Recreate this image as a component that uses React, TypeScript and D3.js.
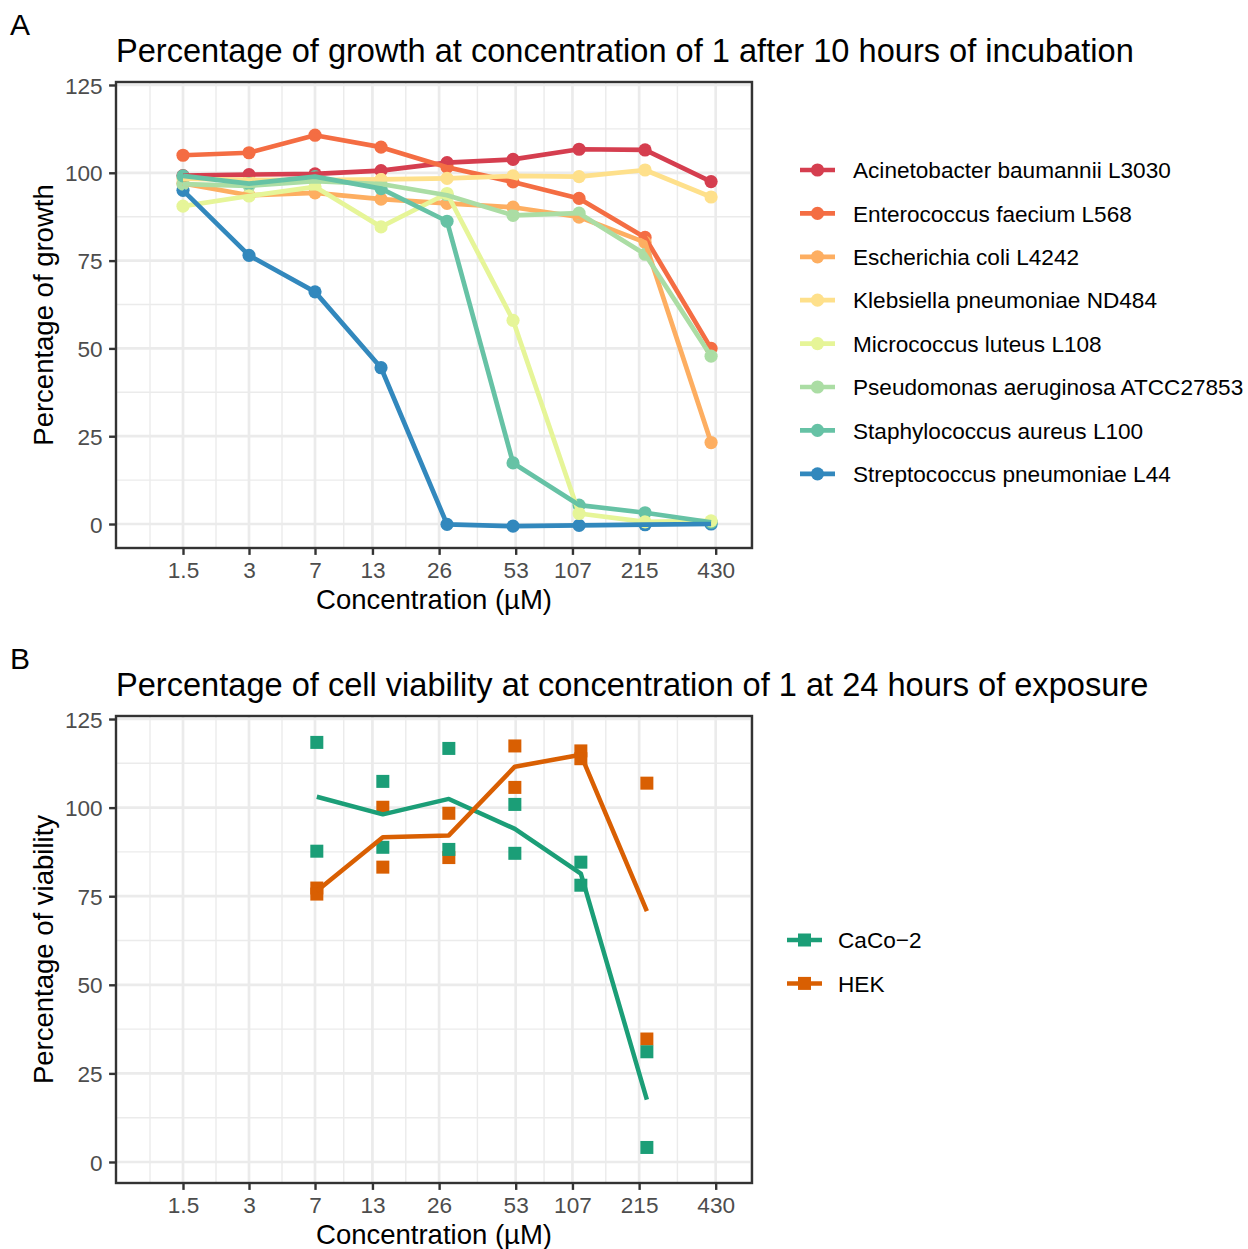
import React, { useEffect, useRef } from "react";
import * as d3 from "d3";

// concentration axis (µM); data sit at evenly spaced dose steps
const concLabels = ["1.5", "3", "7", "13", "26", "53", "107", "215", "430"];
const concStep = [0, 1, 2, 3, 4, 5, 6, 7, 8];
// where the break labels sit on the dose-step axis
const concTickPos = [0, 1, 2, 2.87, 3.88, 5.04, 5.9, 6.91, 8.07];

const yTicks = [0, 25, 50, 75, 100, 125];

// panel A: percentage of growth
const speciesNames = [
  "Acinetobacter baumannii L3030",
  "Enterococcus faecium L568",
  "Escherichia coli L4242",
  "Klebsiella pneumoniae ND484",
  "Micrococcus luteus L108",
  "Pseudomonas aeruginosa ATCC27853",
  "Staphylococcus aureus L100",
  "Streptococcus pneumoniae L44",
];
const speciesColors = ["#D53E4F", "#F46D43", "#FDAE61", "#FEE08B", "#E6F598", "#ABDDA4", "#66C2A5", "#3288BD"];

const acinetobacter = [99.2, 99.5, 99.7, 100.6, 102.9, 103.8, 106.7, 106.5, 97.5];
const enterococcus = [105.0, 105.7, 110.7, 107.3, 101.6, 97.4, 92.7, 81.6, 50.0];
const ecoli = [97.0, 93.6, 94.3, 92.5, 91.3, 90.2, 87.4, 80.2, 23.2];
const klebsiella = [98.3, 98.0, 97.9, 98.1, 98.4, 99.1, 98.9, 100.8, 93.1];
const micrococcus = [90.5, 93.4, 96.0, 84.6, 94.1, 58.0, 3.0, 0.6, 0.9];
const pseudomonas = [96.8, 96.3, 97.6, 96.8, 93.6, 87.9, 88.5, 76.8, 47.8];
const staph = [99.1, 96.9, 98.9, 95.5, 86.2, 17.4, 5.4, 3.2, 0.5];
const strep = [95.0, 76.5, 66.1, 44.5, -0.1, -0.6, -0.4, -0.2, 0.0];

const growth = [acinetobacter, enterococcus, ecoli, klebsiella, micrococcus, pseudomonas, staph, strep];
const pointOrder = [7, 0, 1, 2, 3, 5, 6, 4];

// panel B: cell viability, two replicates per concentration
const cellLines = ["CaCo−2", "HEK"];
const cellColors = ["#1B9E77", "#D95F02"];
const viabStep = [2, 3, 4, 5, 6, 7];
const caco2Rep1 = [118.4, 107.4, 116.7, 100.9, 84.6, 31.1];
const caco2Rep2 = [87.7, 88.8, 88.2, 87.1, 78.1, 4.1];
const hekRep1 = [77.3, 100.1, 98.4, 117.4, 116.0, 106.9];
const hekRep2 = [75.6, 83.2, 85.9, 105.7, 113.8, 34.7];
const viability = [
  [caco2Rep1, caco2Rep2],
  [hekRep1, hekRep2],
];

const FONT = "'Liberation Sans', Arial, Helvetica, sans-serif";

export default function App() {
  const svgRef = useRef<SVGSVGElement | null>(null);

  useEffect(() => {
    if (!svgRef.current) return;
    const svg = d3.select(svgRef.current);
    svg.selectAll("*").remove();

    const left = 116;
    const right = 752;
    const x = d3.scaleLinear().domain([-1.015, 8.62]).range([left, right]);
    const nudgeB = 1.8; // panel B marks sit slightly right of panel A's

    const minorX: number[] = [];
    minorX.push(concTickPos[0] - (concTickPos[1] - concTickPos[0]) / 2);
    for (let i = 1; i < concTickPos.length; i++) minorX.push((concTickPos[i - 1] + concTickPos[i]) / 2);
    minorX.push(8.6);

    function frame(top: number, bottom: number, yDomain: [number, number], title: string, tag: string, yTitle: string) {
      const y = d3.scaleLinear().domain(yDomain).range([bottom, top]);
      const g = svg.append("g");

      g.append("rect").attr("x", left).attr("y", top).attr("width", right - left).attr("height", bottom - top).attr("fill", "#fff");

      const minorY = d3.range(-12.5, 140, 25).filter((v) => v > yDomain[0] && v < yDomain[1]);
      g.selectAll(".mgy").data(minorY).join("line")
        .attr("x1", left).attr("x2", right).attr("y1", (d) => y(d)).attr("y2", (d) => y(d))
        .attr("stroke", "#EBEBEB").attr("stroke-width", 1.4);
      g.selectAll(".mgx").data(minorX.filter((v) => x(v) > left && x(v) < right)).join("line")
        .attr("y1", top).attr("y2", bottom).attr("x1", (d) => x(d)).attr("x2", (d) => x(d))
        .attr("stroke", "#EBEBEB").attr("stroke-width", 1.4);
      g.selectAll(".Mgy").data(yTicks).join("line")
        .attr("x1", left).attr("x2", right).attr("y1", (d) => y(d)).attr("y2", (d) => y(d))
        .attr("stroke", "#EBEBEB").attr("stroke-width", 2.7);
      g.selectAll(".Mgx").data(concTickPos).join("line")
        .attr("y1", top).attr("y2", bottom).attr("x1", (d) => x(d)).attr("x2", (d) => x(d))
        .attr("stroke", "#EBEBEB").attr("stroke-width", 2.7);

      const data = svg.append("g");

      const ax = svg.append("g").attr("transform", `translate(0,${bottom})`)
        .call(d3.axisBottom(x).tickValues(concTickPos).tickFormat((_, i) => concLabels[i]).tickSize(6.9).tickPadding(7.2));
      ax.select(".domain").remove();
      ax.selectAll("line").attr("stroke", "#333333").attr("stroke-width", 2.4);
      ax.selectAll("text").attr("fill", "#4D4D4D").attr("font-size", 22.6).attr("font-family", FONT);

      const ay = svg.append("g").attr("transform", `translate(${left},0)`)
        .call(d3.axisLeft(y).tickValues(yTicks).tickSize(6.9).tickPadding(6.5));
      ay.select(".domain").remove();
      ay.selectAll("line").attr("stroke", "#333333").attr("stroke-width", 2.4);
      ay.selectAll("text").attr("fill", "#4D4D4D").attr("font-size", 22.6).attr("font-family", FONT).attr("dy", "0.36em");

      svg.append("text").attr("x", left).attr("y", top - 20).attr("font-size", 32.6).attr("font-family", FONT).attr("fill", "#000").text(title);
      svg.append("text").attr("x", 10).attr("y", top - 47).attr("font-size", 30).attr("font-family", FONT).attr("fill", "#000").text(tag);
      svg.append("text").attr("x", (left + right) / 2).attr("y", bottom + 61).attr("text-anchor", "middle")
        .attr("font-size", 27.5).attr("font-family", FONT).attr("fill", "#000").text("Concentration (µM)");
      svg.append("text").attr("transform", `translate(53,${(top + bottom) / 2}) rotate(-90)`).attr("text-anchor", "middle")
        .attr("font-size", 27.5).attr("font-family", FONT).attr("fill", "#000").text(yTitle);

      return { y, data };
    }

    // ---------- panel A ----------
    const A = frame(82, 548, [-6.83, 125.85], "Percentage of growth at concentration of 1 after 10 hours of incubation", "A", "Percentage of growth");
    const lineA = d3.line<number>().x((_, i) => x(concStep[i])).y((d) => A.y(d));
    pointOrder.forEach((s) => {
      A.data.selectAll(null).data(growth[s]).join("circle")
        .attr("cx", (_, i) => x(concStep[i])).attr("cy", (d) => A.y(d)).attr("r", 6.6).attr("fill", speciesColors[s]);
    });
    growth.forEach((vals, s) => {
      A.data.append("path").datum(vals).attr("d", lineA).attr("fill", "none")
        .attr("stroke", speciesColors[s]).attr("stroke-width", 4.7).attr("stroke-linejoin", "round");
    });
    A.data.append("rect").attr("x", left).attr("y", 82).attr("width", right - left).attr("height", 548 - 82)
      .attr("fill", "none").attr("stroke", "#333333").attr("stroke-width", 2.4);

    const legA = svg.append("g");
    speciesNames.forEach((name, i) => {
      const cy = 170 + i * 43.4;
      legA.append("line").attr("x1", 800).attr("x2", 835).attr("y1", cy).attr("y2", cy).attr("stroke", speciesColors[i]).attr("stroke-width", 4.7);
      legA.append("circle").attr("cx", 817.5).attr("cy", cy).attr("r", 6.6).attr("fill", speciesColors[i]);
      legA.append("text").attr("x", 853).attr("y", cy).attr("dy", "0.36em").attr("font-size", 22.6).attr("font-family", FONT).attr("fill", "#000").text(name);
    });

    // ---------- panel B ----------
    const B = frame(716, 1183, [-5.93, 125.85], "Percentage of cell viability at concentration of 1 at 24 hours of exposure", "B", "Percentage of viability");
    const sq = 13;
    [1, 0].forEach((c) => {
      viability[c].forEach((rep) => {
        B.data.selectAll(null).data(rep).join("rect")
          .attr("x", (_, i) => x(viabStep[i]) + nudgeB - sq / 2).attr("y", (d) => B.y(d) - sq / 2)
          .attr("width", sq).attr("height", sq).attr("fill", cellColors[c]);
      });
    });
    const lineB = d3.line<number>().x((_, i) => x(viabStep[i]) + nudgeB).y((d) => B.y(d));
    viability.forEach((reps, c) => {
      const means = reps[0].map((_, i) => d3.mean(reps, (r) => r[i]) as number);
      B.data.append("path").datum(means).attr("d", lineB).attr("fill", "none")
        .attr("stroke", cellColors[c]).attr("stroke-width", 4.5).attr("stroke-linejoin", "round");
    });
    B.data.append("rect").attr("x", left).attr("y", 716).attr("width", right - left).attr("height", 1183 - 716)
      .attr("fill", "none").attr("stroke", "#333333").attr("stroke-width", 2.4);

    const legB = svg.append("g");
    cellLines.forEach((name, i) => {
      const cy = 940 + i * 43.4;
      legB.append("line").attr("x1", 787).attr("x2", 822).attr("y1", cy).attr("y2", cy).attr("stroke", cellColors[i]).attr("stroke-width", 4.5);
      legB.append("rect").attr("x", 804.5 - sq / 2).attr("y", cy - sq / 2).attr("width", sq).attr("height", sq).attr("fill", cellColors[i]);
      legB.append("text").attr("x", 838).attr("y", cy).attr("dy", "0.36em").attr("font-size", 22.6).attr("font-family", FONT).attr("fill", "#000").text(name);
    });
  }, []);

  return (
    <>
      <style>{`body{margin:0;background:#fff}`}</style>
      <svg ref={svgRef} width={1248} height={1249} style={{ display: "block", background: "#fff" }} />
    </>
  );
}
